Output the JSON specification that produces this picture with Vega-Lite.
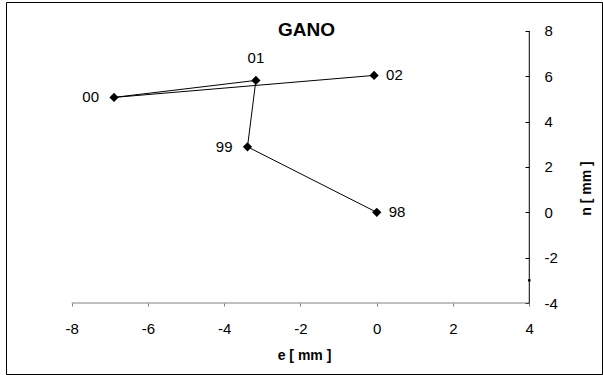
{
  "$schema": "https://vega.github.io/schema/vega-lite/v6.json",
  "width": 596,
  "height": 372,
  "padding": {"left": 6, "top": 2, "right": 1, "bottom": 1},
  "autosize": {"type": "none"},
  "background": "white",
  "config": {
    "view": {"stroke": "#000000", "strokeWidth": 1},
    "font": "Liberation Sans",
    "text": {"font": "Liberation Sans"}
  },
  "datasets": {
    "points": [
      {"label": "98", "x": 0.0, "y": 0.0, "order": 1},
      {"label": "99", "x": -3.39, "y": 2.89, "order": 2},
      {"label": "01", "x": -3.17, "y": 5.82, "order": 3},
      {"label": "00", "x": -6.89, "y": 5.07, "order": 4},
      {"label": "02", "x": -0.07, "y": 6.04, "order": 5}
    ],
    "xaxisline": [{"x": -8, "x2": 4, "y": -4}],
    "yaxisline": [{"x": 4, "y": -4, "y2": 8}],
    "extra": [{"x": 4, "y": -3}],
    "heading": [{"x": -1.84, "y": 8.04, "text": "GANO"}]
  },
  "encoding": {
    "x": {
      "field": "x",
      "type": "quantitative",
      "scale": {"domain": [-9.723, 5.907], "nice": false, "zero": false},
      "axis": {
        "values": [-8, -6, -4, -2, 0, 2, 4],
        "labelExpr": "'' + datum.value",
        "domain": false,
        "grid": false,
        "offset": -71,
        "tickSize": 3,
        "tickColor": "#808080",
        "labelPadding": 15,
        "labelFlush": false,
        "labelFontSize": 15,
        "labelColor": "#000000",
        "labelFont": "Liberation Sans",
        "title": "e [ mm ]",
        "titleFont": "Liberation Sans",
        "titleFontSize": 14,
        "titleFontWeight": "bold",
        "titleColor": "#000000",
        "titlePadding": 12
      }
    },
    "y": {
      "field": "y",
      "type": "quantitative",
      "scale": {"domain": [-7.132, 9.279], "nice": false, "zero": false},
      "axis": {
        "orient": "right",
        "values": [-4, -2, 0, 2, 4, 6, 8],
        "labelExpr": "'' + datum.value",
        "domain": false,
        "grid": false,
        "offset": -73,
        "tickSize": -4,
        "tickColor": "#000000",
        "labelPadding": 19,
        "labelAlign": "left",
        "labelFlush": false,
        "labelFontSize": 15,
        "labelColor": "#000000",
        "labelFont": "Liberation Sans",
        "title": "n [ mm ]",
        "titleFont": "Liberation Sans",
        "titleFontSize": 14,
        "titleFontWeight": "bold",
        "titleColor": "#000000",
        "titleAngle": 270,
        "titleBaseline": "top",
        "titlePadding": 22
      }
    }
  },
  "layer": [
    {
      "data": {"name": "xaxisline"},
      "mark": {"type": "rule", "color": "#808080", "strokeWidth": 1},
      "encoding": {"x2": {"field": "x2"}}
    },
    {
      "data": {"name": "yaxisline"},
      "mark": {"type": "rule", "color": "#000000", "strokeWidth": 1},
      "encoding": {"y2": {"field": "y2"}}
    },
    {
      "data": {"name": "extra"},
      "mark": {"type": "point", "shape": "square", "filled": true, "color": "#000000", "size": 6, "opacity": 1}
    },
    {
      "data": {"name": "points"},
      "mark": {"type": "line", "color": "#000000", "strokeWidth": 1},
      "encoding": {"order": {"field": "order", "type": "quantitative"}}
    },
    {
      "data": {"name": "points"},
      "mark": {"type": "point", "shape": "diamond", "filled": true, "color": "#000000", "size": 85, "opacity": 1}
    },
    {
      "data": {"name": "points"},
      "transform": [{"filter": {"field": "label", "oneOf": ["98", "02"]}}],
      "mark": {"type": "text", "align": "left", "baseline": "middle", "dx": 12, "fontSize": 15, "color": "#000000"},
      "encoding": {"text": {"field": "label"}}
    },
    {
      "data": {"name": "points"},
      "transform": [{"filter": {"field": "label", "oneOf": ["00", "99"]}}],
      "mark": {"type": "text", "align": "right", "baseline": "middle", "dx": -15, "fontSize": 15, "color": "#000000"},
      "encoding": {"text": {"field": "label"}}
    },
    {
      "data": {"name": "points"},
      "transform": [{"filter": {"field": "label", "equal": "01"}}],
      "mark": {"type": "text", "align": "center", "baseline": "middle", "dy": -22, "fontSize": 15, "color": "#000000"},
      "encoding": {"text": {"field": "label"}}
    },
    {
      "data": {"name": "heading"},
      "mark": {"type": "text", "align": "center", "baseline": "middle", "fontSize": 19, "fontWeight": "bold", "color": "#000000"},
      "encoding": {"text": {"field": "text"}}
    }
  ]
}
